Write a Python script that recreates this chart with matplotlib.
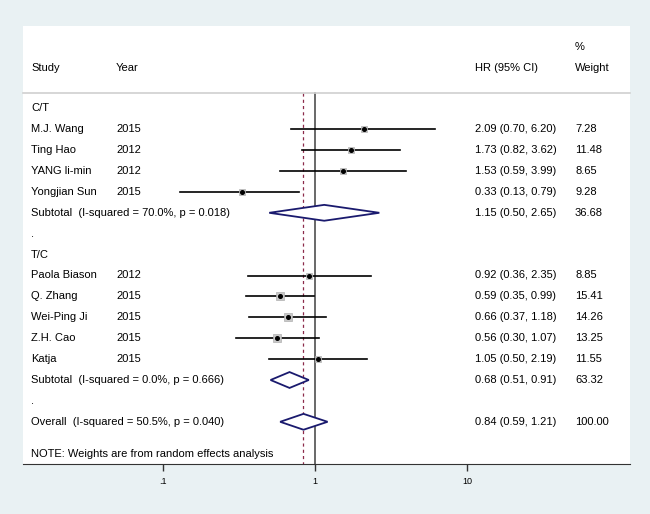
import numpy as np
import matplotlib.pyplot as plt
from matplotlib.transforms import blended_transform_factory
from matplotlib.patches import Polygon

plt.rcParams['font.family'] = ['Liberation Sans', 'DejaVu Sans']

#study data per group
ct_names = ["M.J. Wang", "Ting Hao", "YANG li-min", "Yongjian Sun"]
ct_years = ["2015", "2012", "2012", "2015"]
ct_hr = [2.09, 1.73, 1.53, 0.33]
ct_lo = [0.70, 0.82, 0.59, 0.13]
ct_hi = [6.20, 3.62, 3.99, 0.79]
ct_weight = [7.28, 11.48, 8.65, 9.28]

tc_names = ["Paola Biason", "Q. Zhang", "Wei-Ping Ji", "Z.H. Cao", "Katja"]
tc_years = ["2012", "2015", "2015", "2015", "2015"]
tc_hr = [0.92, 0.59, 0.66, 0.56, 1.05]
tc_lo = [0.36, 0.35, 0.37, 0.30, 0.50]
tc_hi = [2.35, 0.99, 1.18, 1.07, 2.19]
tc_weight = [8.85, 15.41, 14.26, 13.25, 11.55]

#pooled estimates: hr, lo, hi, weight
ct_sub = [1.15, 0.50, 2.65, 36.68]
tc_sub = [0.68, 0.51, 0.91, 63.32]
overall = [0.84, 0.59, 1.21, 100.00]
ct_label = "Subtotal  (I-squared = 70.0%, p = 0.018)"
tc_label = "Subtotal  (I-squared = 0.0%, p = 0.666)"
overall_label = "Overall  (I-squared = 50.5%, p = 0.040)"
note = "NOTE: Weights are from random effects analysis"

xticks = [0.1, 1, 10]
xticklabels = [".1", "1", "10"]

W, H = 650, 514
fig = plt.figure(figsize=(W / 100, H / 100), dpi=100)
fig.patch.set_facecolor("#e9f1f3")
ax = fig.add_axes([23 / W, 1 - 464 / H, 607 / W, 438 / H])
ax.set_facecolor("white")
ax.set_xscale("log")
ax.set_xlim(10 ** ((23 - 315) / 152), 10 ** ((630 - 315) / 152))
ax.set_ylim((464 - 108.3) / 20.9, (26 - 108.3) / 20.9)
for s in ["top", "left", "right"]:
    ax.spines[s].set_visible(False)
ax.spines["bottom"].set_color("#333333")
ax.set_yticks([])
ax.set_xticks(xticks)
ax.set_xticklabels(xticklabels)
ax.minorticks_off()
ax.tick_params(axis="x", length=5, width=1, color="#333333", labelsize=6.5, pad=4)

tr = blended_transform_factory(ax.transAxes, ax.transData)
def colx(px):
    return (px - 23) / 607

fs = 8
def row_text(y, study="", year="", ci="", weight=""):
    ax.text(colx(31), y, study, transform=tr, fontsize=fs, va="center")
    ax.text(colx(116), y, year, transform=tr, fontsize=fs, va="center")
    ax.text(colx(475), y, ci, transform=tr, fontsize=fs, va="center")
    ax.text(colx(575), y, weight, transform=tr, fontsize=fs, va="center")

#header
ax.text(colx(575), -2.93, "%", transform=tr, fontsize=fs, va="center")
row_text(-1.93, "Study", "Year", "HR (95% CI)", "Weight")
sep = -0.73
ax.plot([0, 1], [sep, sep], transform=tr, color="#d0d0d0", lw=1.2, clip_on=False)

#reference lines
ybot = ax.get_ylim()[0]
ax.plot([1, 1], [sep, ybot], color="#404040", lw=1.1, zorder=1)
ax.plot([overall[0], overall[0]], [sep, ybot], color="#8c2a4a", lw=0.9,
        dashes=(2.5, 2.5), zorder=1)

def study(y, name, year, hr, lo, hi, w):
    ax.plot([lo, hi], [y, y], color="black", lw=1.2, zorder=2)
    ax.plot(hr, y, "s", ms=1.47 * np.sqrt(w), mfc="#c8c8c8", mec="#b0b0b0",
            mew=0.5, zorder=3)
    ax.plot(hr, y, "o", ms=2.6, color="black", zorder=4)
    row_text(y, name, year, "%.2f (%.2f, %.2f)" % (hr, lo, hi), "%.2f" % w)

def diamond(y, label, est):
    hr, lo, hi, w = est
    h = 0.38
    d = Polygon([[lo, y], [hr, y - h], [hi, y], [hr, y + h]], closed=True,
                facecolor="white", edgecolor="#1a1a6e", lw=1.3, zorder=3)
    ax.add_patch(d)
    row_text(y, label, "", "%.2f (%.2f, %.2f)" % (hr, lo, hi), "%.2f" % w)

#group C/T
row_text(0, "C/T")
for i in range(len(ct_names)):
    study(1 + i, ct_names[i], ct_years[i], ct_hr[i], ct_lo[i], ct_hi[i], ct_weight[i])
diamond(5, ct_label, ct_sub)
row_text(6, ".")

#group T/C
row_text(7, "T/C")
for i in range(len(tc_names)):
    study(8 + i, tc_names[i], tc_years[i], tc_hr[i], tc_lo[i], tc_hi[i], tc_weight[i])
diamond(13, tc_label, tc_sub)
row_text(14, ".")

diamond(15, overall_label, overall)
row_text(16.53, note)

fig.savefig("out.png", dpi=100, facecolor=fig.get_facecolor())
